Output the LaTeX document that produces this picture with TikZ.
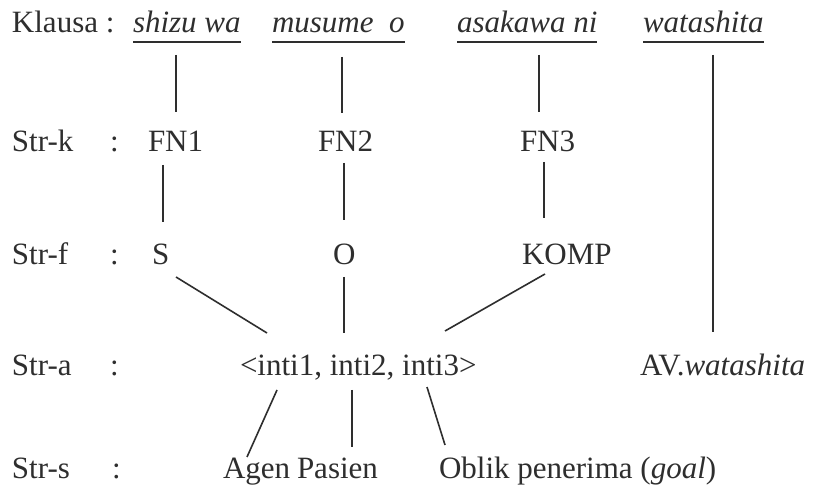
\documentclass[tikz,border=0pt]{standalone}
\usepackage{fontspec}
\setmainfont{Liberation Serif}
\usetikzlibrary{calc}
\definecolor{ink}{HTML}{2E2E2E}
\begin{document}
\begin{tikzpicture}[x=1pt,y=-1pt,
  txt/.style={anchor=base west,inner sep=0pt,outer sep=0pt,text=ink,font=\fontsize{31}{37}\selectfont},
  link/.style={draw=ink,line width=1.6pt},
  uline/.style={draw=ink,line width=1.2pt}]
\useasboundingbox[fill=white] (0,0) rectangle (823,489);
% row 1
\node[txt] (klausa) at (12,33) {Klausa :};
\node[txt] (shizu) at (133,33) {\itshape shizu wa};
\node[txt] (musume) at (272,33) {\itshape musume\ \ o};
\node[txt] (asakawa) at (457,33) {\itshape asakawa ni};
\node[txt] (watashita) at (643,33) {\itshape watashita};
% row 2
\node[txt] (strk) at (12,152) {Str-k};
\node[txt] (ck) at (110,152) {:};
\node[txt] (fn1) at (148,152) {FN1};
\node[txt] (fn2) at (318,152) {FN2};
\node[txt] (fn3) at (520,152) {FN3};
% row 3
\node[txt] (strf) at (12,265) {Str-f};
\node[txt] (cf) at (110,265) {:};
\node[txt] (s) at (152,265) {S};
\node[txt] (o) at (333,265) {O};
\node[txt] (komp) at (522,265) {KOMP};
% row 4
\node[txt] (stra) at (12,376) {Str-a};
\node[txt] (ca) at (110,376) {:};
\node[txt] (inti) at (240,376) {<inti1, inti2, inti3>};
\node[txt] (av) at (640,376) {AV.\textit{watashita}};
% row 5
\node[txt] (strs) at (12,478) {Str-s};
\node[txt] (cs) at (112,478) {:};
\node[txt] (agen) at (223,478) {Agen};
\node[txt] (pasien) at (297,478) {Pasien};
\node[txt] (oblik) at (439,478) {Oblik penerima (\textit{goal})};
% underlines
\foreach \n in {shizu,musume,asakawa,watashita}
  \draw[uline] ($(\n.base west)+(0,9)$) -- ($(\n.base east)+(0,9)$);
% connectors
\draw[link] ($(shizu.base west)+(43,22)$) -- ($(fn1.base west)+(28,-40)$);
\draw[link] ($(musume.base west)+(70,24)$) -- ($(fn2.base west)+(24,-39)$);
\draw[link] ($(asakawa.base west)+(82,22)$) -- ($(fn3.base west)+(19,-40)$);
\draw[link] ($(watashita.base west)+(70,22)$) -- ($(av.base west)+(73,-44)$);
\draw[link] ($(fn1.base west)+(15,13)$) -- ($(s.base west)+(11,-43)$);
\draw[link] ($(fn2.base west)+(26,11)$) -- ($(o.base west)+(11,-45)$);
\draw[link] ($(fn3.base west)+(24,10)$) -- ($(komp.base west)+(22,-47)$);
\draw[link] ($(s.base west)+(24,12)$) -- ($(inti.base west)+(27,-43)$);
\draw[link] ($(o.base west)+(11,12)$) -- ($(inti.base west)+(104,-43)$);
\draw[link] ($(komp.base west)+(23,9)$) -- ($(inti.base west)+(205,-45)$);
\draw[link] ($(inti.base west)+(37,14)$) -- ($(agen.base west)+(24,-21)$);
\draw[link] ($(inti.base west)+(112,14)$) -- ($(pasien.base west)+(55,-31)$);
\draw[link] ($(inti.base west)+(187,11)$) -- ($(oblik.base west)+(6,-33)$);
\end{tikzpicture}
\end{document}
